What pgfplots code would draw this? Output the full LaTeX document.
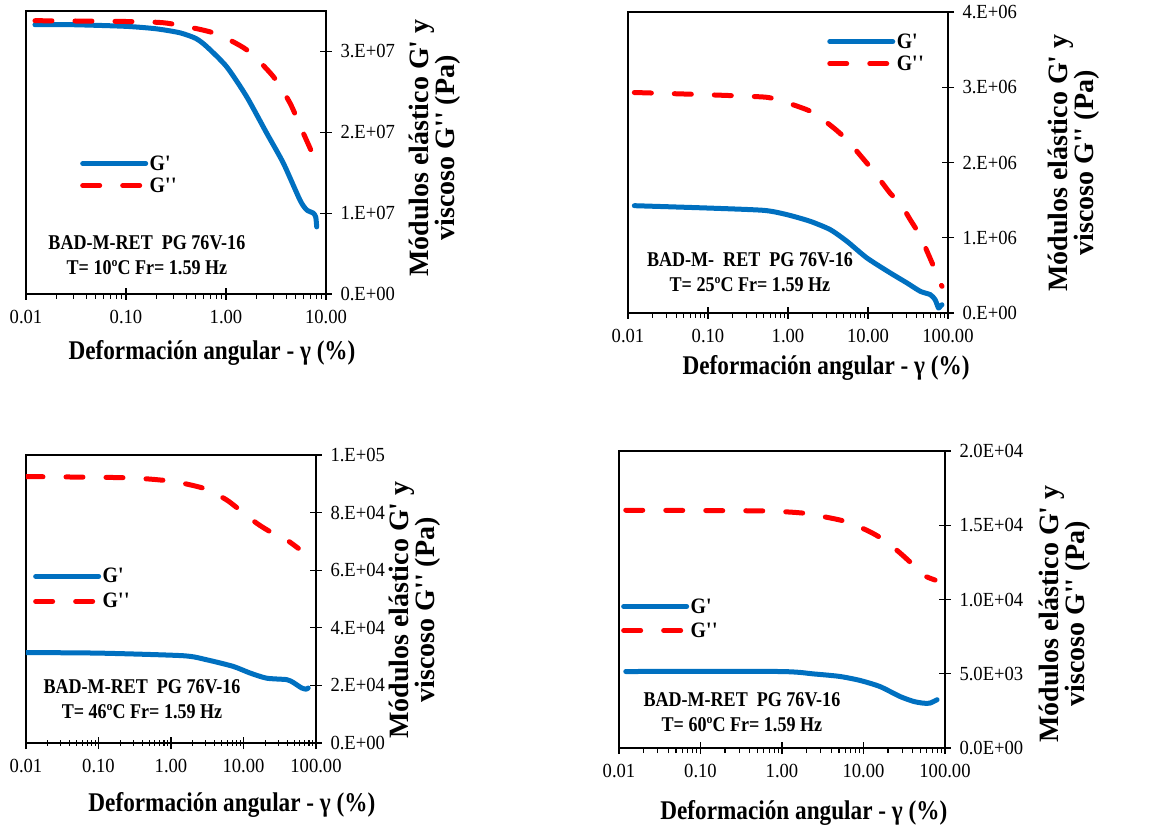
\documentclass[border=0pt]{standalone}
\usepackage{fontspec}
\setmainfont{Liberation Serif}
\newfontfamily\condfont[FakeStretch=0.86]{Liberation Serif}
\newfontfamily\legfont[FakeStretch=0.9]{Liberation Serif}
\newfontfamily\tickfont[FakeStretch=0.93]{Liberation Serif}
\usepackage{pgfplots}
\pgfplotsset{compat=1.18}
\definecolor{gblue}{RGB}{0,112,192}
\definecolor{gred}{RGB}{255,0,0}
\tikzset{
  gp/.style={color=gblue, line width=5pt, line cap=round, line join=round},
  gpp/.style={color=gred, line width=5pt, line cap=round, line join=round, dash pattern=on 17pt off 23pt},
}
\pgfplotsset{
 panel/.style={
  scale only axis, xmin=0.01,
  axis line style={line width=1.3pt, black},
  every tick/.style={black, line width=1.1pt},
  xtick pos=bottom, ytick pos=right, yticklabel pos=right,
  tick align=center, major tick length=12pt, minor tick length=5pt,
  minor x tick style={yshift=-2.5pt},
  xtick={0.01,0.1,1,10,100},
  xticklabels={0.01,0.10,1.00,10.00,100.00},
  scaled y ticks=false,
  ticklabel style={font=\tickfont\fontsize{20}{22}\selectfont},
  xticklabel style={yshift=-7pt},
  yticklabel style={xshift=5pt},
  xlabel={Deformación angular - γ (\%)},
  xlabel style={font=\condfont\bfseries\fontsize{27}{29}\selectfont, anchor=center},
  ylabel={Módulos elástico G\textquotesingle{} y\\viscoso G\textquotesingle\textquotesingle{} (Pa)},
  ylabel style={font=\bfseries\fontsize{28}{26}\selectfont, align=center, anchor=center},
  legend cell align=left,
  legend style={draw=none, fill=none, anchor=west, font=\legfont\bfseries\fontsize{22}{23}\selectfont, inner sep=0pt, row sep=3pt, nodes={inner sep=1.5pt}},
  legend image code/.code={\draw[##1] (0pt,0pt) -- (63pt,0pt);},
 }
}
\begin{document}
\begin{tikzpicture}
\useasboundingbox (0,0) rectangle (1155pt,832pt);
% Panel 1
\begin{axis}[xmode=log, panel, anchor=south west, at={(26pt,538pt)}, width=300pt, height=283pt,
  xmax=10, ymin=0, ymax=3.5e7,
  ytick={0,1e7,2e7,3e7}, yticklabels={0.E+00,1.E+07,2.E+07,3.E+07},
  xlabel style={at={(axis description cs:0.62,-0.208)}},
  ylabel style={at={(axis description cs:1.362,0.516)}},
  legend style={at={(axis description cs:0.18,0.422)}}]
\addplot[gp, smooth, tension=0.4] coordinates {(0.0123,3.33e7) (0.03,3.33e7) (0.1,3.31e7) (0.2,3.28e7) (0.347,3.23e7) (0.5,3.16e7) (0.641,3.06e7) (1.016,2.81e7) (1.61,2.44e7) (2.55,1.99e7) (3.74,1.62e7) (5.5,1.16e7) (6.41,1.04e7) (7.47,1.0e7) (7.9,0.95e7) (8.07,0.83e7)};
\addlegendentry{G\textquotesingle}
\addplot[gpp, smooth, tension=0.4] coordinates {(0.0123,3.38e7) (0.1,3.37e7) (0.255,3.35e7) (0.747,3.23e7) (1.61,3.02e7) (2.97,2.69e7) (4.37,2.36e7) (5.93,1.99e7) (8.07,1.62e7)};
\addlegendentry{G\textquotesingle\textquotesingle}
\node[font=\condfont\bfseries\fontsize{21}{25}\selectfont, align=center] at (axis description cs:0.403,0.136) {BAD-M-RET\ \ PG 76V-16\\T= 10ºC Fr= 1.59 Hz};
\end{axis}
% Panel 2
\begin{axis}[xmode=log, panel, anchor=south west, at={(628pt,519pt)}, width=320pt, height=301pt,
  xmax=100, ymin=0, ymax=4e6,
  ytick={0,1e6,2e6,3e6,4e6}, yticklabels={0.E+00,1.E+06,2.E+06,3.E+06,4.E+06},
  xlabel style={at={(axis description cs:0.619,-0.183)}},
  ylabel style={at={(axis description cs:1.392,0.498)}},
  legend style={at={(axis description cs:0.622,0.865)}}]
\addplot[gp, smooth, tension=0.4] coordinates {(0.012,1.426e6) (0.098,1.395e6) (0.497,1.364e6) (0.97,1.307e6) (1.9,1.218e6) (3.38,1.107e6) (5.46,0.952e6) (9.7,0.731e6) (19,0.532e6) (30.7,0.399e6) (45,0.288e6) (60,0.244e6) (69,0.177e6) (76,0.066e6) (80,0.09e6) (84,0.11e6)};
\addlegendentry{G\textquotesingle}
\addplot[gpp, smooth, tension=0.4] coordinates {(0.012,2.93e6) (0.1,2.9e6) (0.497,2.87e6) (0.73,2.835e6) (1.29,2.75e6) (2.09,2.66e6) (3.72,2.46e6) (5.46,2.30e6) (8.85,2.04e6) (11.8,1.88e6) (19,1.59e6) (25.2,1.46e6) (33.7,1.24e6) (45,1.02e6) (66,0.62e6) (84,0.354e6)};
\addlegendentry{G\textquotesingle\textquotesingle}
\node[font=\condfont\bfseries\fontsize{21}{25}\selectfont, align=center] at (axis description cs:0.381,0.136) {BAD-M-\ \ RET\ \ PG 76V-16\\T= 25ºC Fr= 1.59 Hz};
\end{axis}
% Panel 3
\begin{axis}[xmode=log, panel, anchor=south west, at={(26pt,89pt)}, width=290pt, height=288pt,
  xmax=100, ymin=0, ymax=1e5, minor tick length=6pt,
  minor x tick style={yshift=3pt},
  ytick={0,2e4,4e4,6e4,8e4,1e5}, yticklabels={0.E+00,2.E+04,4.E+04,6.E+04,8.E+04,1.E+05},
  xlabel style={at={(axis description cs:0.71,-0.215)}},
  ylabel style={at={(axis description cs:1.34,0.462)}},
  legend style={at={(axis description cs:0.024,0.535)}, row sep=6pt}]
\addplot[gp, smooth, tension=0.4] coordinates {(0.01,31.4e3) (0.105,31.2e3) (1.48,30.3e3) (3.1,28.9e3) (7.2,26.6e3) (12.3,24.3e3) (20.9,22.5e3) (39.4,22.0e3) (48.6,21.0e3) (63.5,19.1e3) (73,18.7e3) (78,19.1e3)};
\addlegendentry{G\textquotesingle}
\addplot[gpp, smooth, tension=0.4] coordinates {(0.01,92.5e3) (0.245,92.1e3) (0.87,91.1e3) (1.65,89.9e3) (3.1,88.1e3) (5.85,84.4e3) (8.9,80.9e3) (15.2,76.3e3) (23.2,73.4e3) (39.4,70.5e3) (57,67.6e3)};
\addlegendentry{G\textquotesingle\textquotesingle}
\node[font=\condfont\bfseries\fontsize{21}{25}\selectfont, align=center] at (axis description cs:0.4,0.151) {BAD-M-RET\ \ PG 76V-16\\T= 46ºC Fr= 1.59 Hz};
\end{axis}
% Panel 4
\begin{axis}[xmode=log, panel, anchor=south west, at={(619pt,84pt)}, width=326pt, height=297pt,
  xmax=100, ymin=0, ymax=2e4,
  ytick={0,5e3,1e4,1.5e4,2e4}, yticklabels={0.0E+00,5.0E+03,1.0E+04,1.5E+04,2.0E+04},
  xlabel style={at={(axis description cs:0.567,-0.219)}},
  ylabel style={at={(axis description cs:1.368,0.451)}},
  legend style={at={(axis description cs:0.006,0.436)}, row sep=5pt}]
\addplot[gp, smooth, tension=0.4] coordinates {(0.0121,5.15e3) (0.94,5.15e3) (2.42,4.99e3) (5.1,4.82e3) (9.05,4.55e3) (15.9,4.14e3) (28,3.47e3) (41,3.14e3) (54,3.02e3) (65,3.02e3) (80,3.25e3)};
\addlegendentry{G\textquotesingle}
\addplot[gpp, smooth, tension=0.4] coordinates {(0.0121,16.01e3) (0.54,15.97e3) (1.14,15.9e3) (2.0,15.79e3) (4.25,15.45e3) (6.2,15.23e3) (10.9,14.67e3) (15.9,14.18e3) (25.5,13.33e3) (37,12.54e3) (49,11.87e3) (59.5,11.53e3) (75.5,11.31e3)};
\addlegendentry{G\textquotesingle\textquotesingle}
\node[font=\condfont\bfseries\fontsize{21}{25}\selectfont, align=center] at (axis description cs:0.377,0.121) {BAD-M-RET\ \ PG 76V-16\\T= 60ºC Fr= 1.59 Hz};
\end{axis}
\end{tikzpicture}
\end{document}
